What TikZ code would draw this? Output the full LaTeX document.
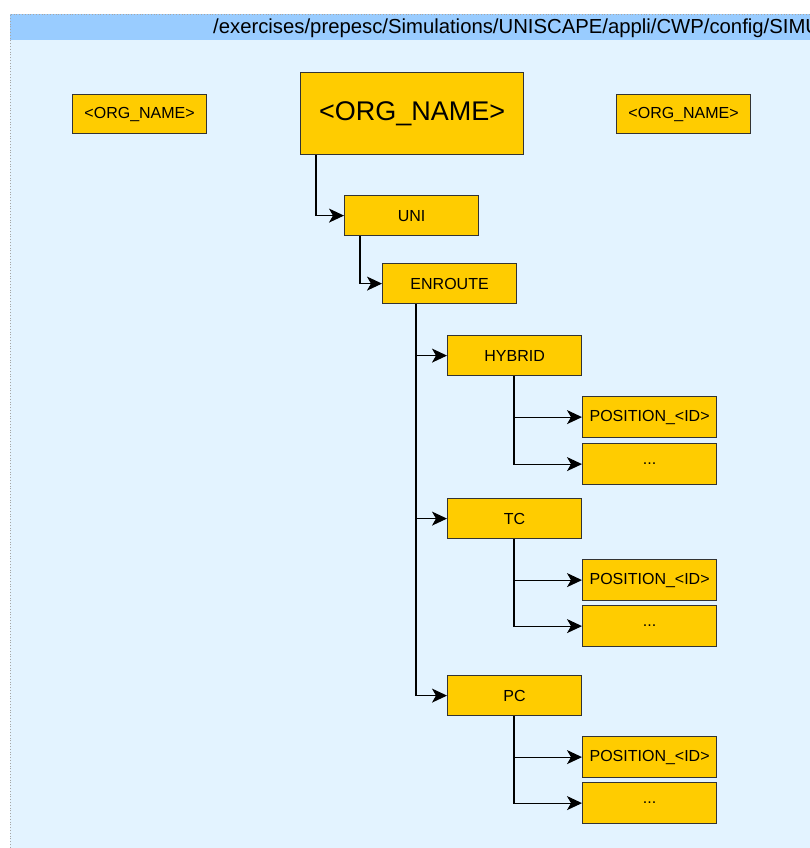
\documentclass[tikz,border=0pt]{standalone}
\usepackage{fontspec}
\setmainfont{Liberation Sans}
\usetikzlibrary{arrows.meta}
\definecolor{boxfill}{HTML}{FFCC00}
\definecolor{headfill}{HTML}{99CCFF}
\definecolor{bodyfill}{HTML}{E3F3FF}
\definecolor{edgegray}{HTML}{333333}
\tikzset{
  px/.style={x=1pt,y=-1pt},
  box/.style={draw=edgegray, fill=boxfill, line width=1.2pt, inner sep=0pt,
    minimum width=134pt, minimum height=40pt, font=\fontsize{16}{18}\selectfont, anchor=north west},
  link/.style={draw=black, line width=1.1pt, -{Stealth[length=15pt,width=14pt,inset=4pt]}},
}
\begin{document}
\begin{tikzpicture}[px]
\useasboundingbox (0,0) rectangle (810,848);
\begin{scope}
\clip (0,0) rectangle (810,848);
% container with its title band; it runs on past the page edges
\fill[bodyfill] (10,14) rectangle (830,870);
\fill[headfill] (10,14) rectangle (830,40);
\draw[gray!70, dotted, line width=0.8pt] (10,870) -- (10,14) -- (830,14);
\node[anchor=base west, inner sep=0pt, font=\fontsize{20.3}{24}\selectfont] (path) at (213,34)
  {/exercises/prepesc/Simulations/UNISCAPE/appli/CWP/config/SIMU};
\end{scope}

% boxes
\node[box, minimum width=134pt, minimum height=39pt] (orgL) at (72,94) {<ORG\_NAME>};
\node[box, minimum width=223pt, minimum height=82pt, font=\fontsize{27}{30}\selectfont] (org) at (300,72) {\raisebox{-4pt}{<ORG\_NAME>}};
\node[box, minimum width=134pt, minimum height=39pt] (orgR) at (616,94) {<ORG\_NAME>};
\node[box] (uni) at (344,195) {UNI};
\node[box] (enr) at (382,263) {ENROUTE};
\node[box] (hyb) at (447,335) {HYBRID};
\node[box, minimum height=41pt] (hp) at (582,396) {POSITION\_<ID>};
\node[box, minimum height=41pt] (hd) at (582,443) {...};
\node[box] (tc) at (447,498) {TC};
\node[box, minimum height=41pt] (tp) at (582,559) {POSITION\_<ID>};
\node[box, minimum height=41pt] (td) at (582,605) {...};
\node[box] (pc) at (447,675) {PC};
\node[box, minimum height=41pt] (pp) at (582,736) {POSITION\_<ID>};
\node[box, minimum height=41pt] (pd) at (582,782) {...};

% connectors
\draw[link] (org.south west) ++(16,0) |- (uni.west);
\draw[link] (uni.south west) ++(16,0) |- (enr.west);
\draw[link] (enr.south west) ++(34,0) |- (hyb.west);
\draw[link] (enr.south west) ++(34,0) |- (tc.west);
\draw[link] (enr.south west) ++(34,0) |- (pc.west);
\draw[link] (hyb.south west) ++(67,0) |- (hp.west);
\draw[link] (hyb.south west) ++(67,0) |- (hd.west);
\draw[link] (tc.south west) ++(67,0) |- (tp.west);
\draw[link] (tc.south west) ++(67,0) |- (td.west);
\draw[link] (pc.south west) ++(67,0) |- (pp.west);
\draw[link] (pc.south west) ++(67,0) |- (pd.west);
\end{tikzpicture}
\end{document}
